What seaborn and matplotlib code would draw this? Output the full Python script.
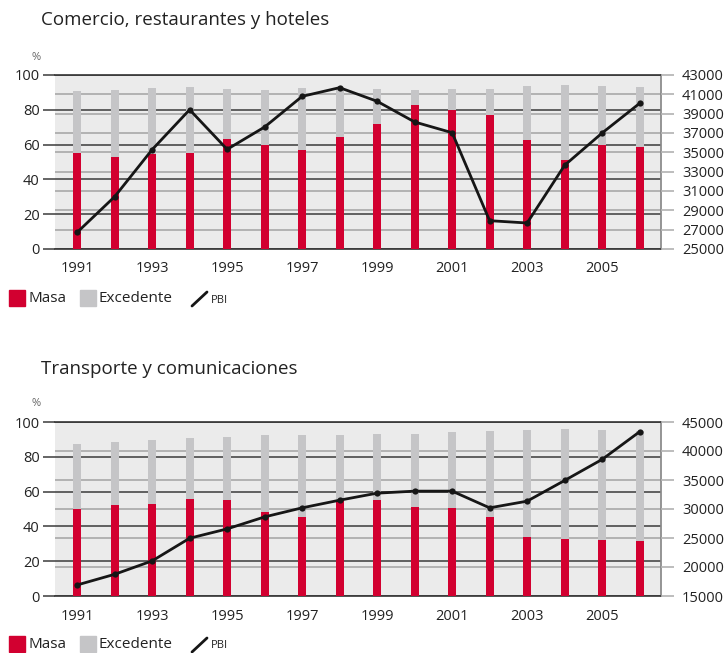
import numpy as np
import pandas as pd
import matplotlib
matplotlib.use("Agg")
import matplotlib.pyplot as plt
from matplotlib.patches import Rectangle
from matplotlib.lines import Line2D
import seaborn as sns

years = [str(y) for y in range(1991, 2007)]

# Comercio, restaurantes y hoteles
com_masa = [55.2, 52.9, 54.6, 55.2, 63.2, 59.8, 56.9, 64.4,
            72.0, 82.8, 79.9, 77.0, 62.6, 51.1, 59.8, 58.6]
com_total = [90.8, 91.4, 92.5, 93.1, 92.0, 91.4, 92.5, 92.5,
             92.0, 91.4, 92.0, 92.0, 93.7, 94.3, 93.7, 93.1]
com_pbi = [26720, 30410, 35280, 39410, 35310, 37620, 40790, 41690,
           40280, 38140, 37030, 27930, 27690, 33660, 37000, 40070]

# Transporte y comunicaciones
tra_masa = [50.1, 52.2, 53.0, 55.9, 55.1, 48.4, 45.5, 55.1,
            55.1, 51.1, 50.5, 45.3, 33.8, 32.6, 32.1, 31.5]
tra_total = [87.3, 88.5, 89.6, 90.8, 91.4, 92.5, 92.5, 92.5,
             93.1, 93.1, 94.2, 94.8, 95.4, 96.0, 95.4, 95.0]
tra_pbi = [16900, 18740, 21050, 24960, 26570, 28640, 30200, 31520,
           32730, 33080, 33080, 30200, 31350, 34920, 38550, 43320]

RED = "#d20030"
GREY = "#c5c5c7"
TXT = "#222222"

sns.set_theme(style="white")
plt.rcParams["font.family"] = ["Open Sans", "DejaVu Sans"]

W, H = 728, 653
fig = plt.figure(figsize=(W / 100, H / 100), dpi=100)


def px_box(left, top, right, bottom):
    return [left / W, 1 - bottom / H, (right - left) / W, (bottom - top) / H]


def panel(box, title, title_y, masa, total, pbi, lo, hi, step, legend_y):
    ax = fig.add_axes(box)
    df = pd.DataFrame({"year": years, "masa": masa, "total": total})
    sns.barplot(data=df, x="year", y="total", color=GREY, width=0.21,
                saturation=1, linewidth=0, edgecolor="none", ax=ax, zorder=2)
    sns.barplot(data=df, x="year", y="masa", color=RED, width=0.21,
                saturation=1, linewidth=0, edgecolor="none", ax=ax, zorder=3)
    ax.set_facecolor("#ebebeb")
    ax.set_xlim(-0.59, 15.57)
    ax.set_ylim(0, 100)
    ax.set_xlabel("")
    ax.set_ylabel("")
    ax.set_xticks(range(0, 16, 2))
    ax.set_xticklabels(years[::2])
    ax.set_yticks(range(0, 101, 20))

    # right-axis grid (grey) and left-axis grid (dark), below the bars
    for v in range(lo, hi + 1, step):
        ax.axhline((v - lo) / (hi - lo) * 100, color="#b2b2b2", lw=1.4, zorder=0.5)
    for v in range(0, 101, 20):
        ax.axhline(v, color="#3a3a3a", lw=1.1, zorder=0.6)

    ax.tick_params(axis="y", length=9, width=1.1, color="#3a3a3a",
                   labelsize=10.5, labelcolor=TXT, pad=2)
    ax.tick_params(axis="x", length=0, labelsize=10.5, labelcolor=TXT, pad=9)
    ax.spines["left"].set_visible(False)
    ax.spines["bottom"].set_color("#3a3a3a")
    ax.spines["top"].set_color("#3a3a3a")
    ax.spines["right"].set_color("#888888")

    ax2 = ax.twinx()
    sns.lineplot(x=np.arange(len(years)), y=pbi, ax=ax2, color="#161616",
                 lw=2.0, marker="o", markersize=4.5, markeredgewidth=0, zorder=5)
    ax2.set_ylim(lo, hi)
    ax2.set_yticks(range(lo, hi + 1, step))
    ax2.tick_params(axis="y", length=9, width=1.2, color="#b2b2b2",
                    labelsize=10.5, labelcolor=TXT, pad=6)
    ax2.grid(False)
    for s in ax2.spines.values():
        s.set_visible(False)
    ax2.set_ylabel("")

    fig.text(41 / W, 1 - title_y / H, title, fontsize=13.5, color=TXT, va="center")
    fig.text(36 / W, 1 - (box_top(box) - 18) / H, "%", fontsize=8, color="#666666",
             ha="center", va="center")

    # legend
    yb = legend_y + 8
    fig.patches.append(Rectangle((9 / W, 1 - yb / H), 16 / W, 16 / H,
                                 transform=fig.transFigure, color=RED))
    fig.text(28 / W, 1 - legend_y / H, "Masa", fontsize=11, color=TXT, va="center")
    fig.patches.append(Rectangle((80 / W, 1 - yb / H), 16 / W, 16 / H,
                                 transform=fig.transFigure, color=GREY))
    fig.text(99 / W, 1 - legend_y / H, "Excedente", fontsize=11, color=TXT, va="center")
    fig.lines.append(Line2D([192 / W, 207 / W], [1 - (legend_y + 8) / H, 1 - (legend_y - 6) / H],
                            transform=fig.transFigure, color="#161616", lw=2))
    fig.text(211 / W, 1 - (legend_y + 2) / H, "PBI", fontsize=8, color=TXT, va="center")


def box_top(box):
    return (1 - box[1] - box[3]) * H


panel(px_box(55, 75, 661, 249), "Comercio, restaurantes y hoteles", 20,
      com_masa, com_total, com_pbi, 25000, 43000, 2000, 298)
panel(px_box(55, 422, 661, 596), "Transporte y comunicaciones", 369,
      tra_masa, tra_total, tra_pbi, 15000, 45000, 5000, 644)

fig.savefig("out.png", dpi=100)
